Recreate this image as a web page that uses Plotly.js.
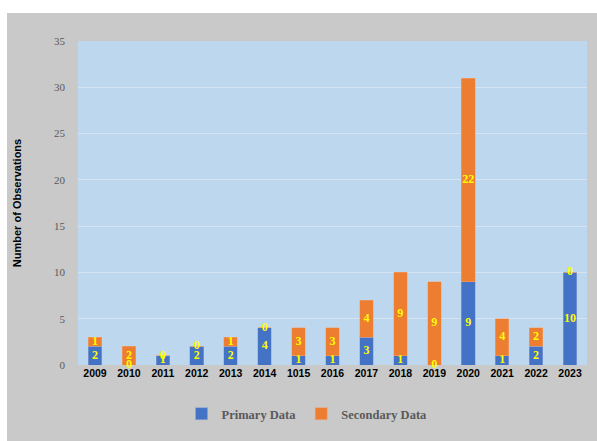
<!DOCTYPE html>
<html>
<head>
<script src="https://cdn.plot.ly/plotly-3.0.1.min.js"></script>
<style>
html,body{margin:0;padding:0;background:#ffffff;}
#chart{position:absolute;left:7px;top:13px;width:590px;height:428px;}
</style>
</head>
<body>
<div id="chart"></div>
<script>
const years = ["2009","2010","2011","2012","2013","2014","1015","2016","2017","2018","2019","2020","2021","2022","2023"];
const primary = [2,0,1,2,2,4,1,1,3,1,0,9,1,2,10];
const secondary = [1,2,0,0,1,0,3,3,4,9,9,22,4,2,0];

const primaryLabelY = primary.map(v => v / 2);
const secondaryLabelY = secondary.map((v, i) => primary[i] + v / 2);

const labelFont = {family: "Liberation Serif, serif", size: 12, color: "#FFFF00", weight: "bold"};

const traces = [
  {type: "bar", name: "Primary Data", x: years, y: primary,
   marker: {color: "#4472C4", line: {color: "#8FA9D8", width: 0.5}}},
  {type: "bar", name: "Secondary Data", x: years, y: secondary,
   marker: {color: "#ED7D31", line: {color: "#F0A878", width: 0.5}}},
  {type: "scatter", mode: "text", x: years, y: primaryLabelY,
   text: primary.map(String), textfont: labelFont, showlegend: false, hoverinfo: "skip", cliponaxis: false},
  {type: "scatter", mode: "text", x: years, y: secondaryLabelY,
   text: secondary.map(String), textfont: labelFont, showlegend: false, hoverinfo: "skip", cliponaxis: false}
];

const layout = {
  width: 590, height: 428,
  barmode: "stack",
  bargap: 0.6,
  paper_bgcolor: "#C9C9C9",
  plot_bgcolor: "#BDD7EE",
  margin: {l: 71, r: 10, t: 28, b: 76},
  xaxis: {
    type: "category",
    range: [-0.5, 14.5],
    tickfont: {family: "Liberation Sans, Arial, sans-serif", size: 10.5, color: "#000000", weight: "bold"},
    showgrid: false, zeroline: false, showline: false, ticks: ""
  },
  yaxis: {
    range: [0, 35], dtick: 5,
    tickfont: {family: "Liberation Serif, serif", size: 11, color: "#595959"},
    gridcolor: "#D6E4F2", gridwidth: 1, zeroline: false, showline: false, ticks: "",
    ticklabelstandoff: 12,
    title: {text: "Number of Observations", standoff: 30,
            font: {family: "Liberation Sans, Arial, sans-serif", size: 11, color: "#000000", weight: "bold"}}
  },
  legend: {
    orientation: "h", traceorder: "normal", x: 0.45, xanchor: "center", y: -0.105, yanchor: "top",
    font: {family: "Liberation Serif, serif", size: 12.5, color: "#595959", weight: "bold"},
    itemwidth: 30, bgcolor: "rgba(0,0,0,0)"
  },
  showlegend: true
};

Plotly.newPlot("chart", traces, layout, {displayModeBar: false, staticPlot: true});
</script>
</body>
</html>
